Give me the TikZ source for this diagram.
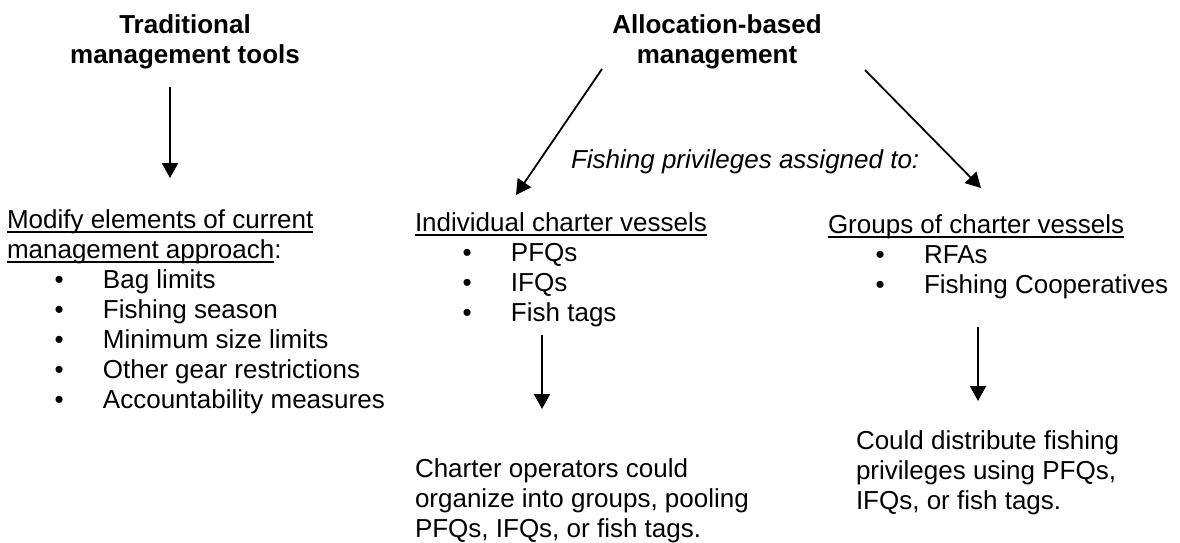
\documentclass[tikz,border=0pt]{standalone}
\usepackage{fontspec}
\setmainfont{Liberation Sans}
\usetikzlibrary{arrows.meta}
\newcommand{\myul}[1]{\setbox0\hbox{#1}\rlap{\rule[-4.5pt]{\wd0}{1.5pt}}\box0}
\newcommand{\bul}{\makebox[96pt][l]{\hspace*{47.5pt}\textbullet}}
\begin{document}
\begin{tikzpicture}[x=1pt,y=-1pt,
  txt/.style={inner sep=0pt, outer sep=0pt, anchor=base west, font=\fontsize{26}{30}\selectfont},
  head/.style={inner sep=0pt, outer sep=0pt, anchor=base, font=\fontsize{26}{30}\selectfont\bfseries},
  arr/.style={line width=1.8pt, -{Triangle[length=15pt,width=16pt]}}]
\useasboundingbox (0,0) rectangle (1180,543);
% headings
\node[head] (trad) at (185,34) {\begin{tabular}[t]{@{}c@{}}Traditional\\management tools\end{tabular}};
\node[head] (alloc) at (717,34) {\begin{tabular}[t]{@{}c@{}}Allocation-based\\management\end{tabular}};
% italic label
\node[txt, font=\fontsize{26}{30}\selectfont\itshape] (assign) at (571,168) {Fishing privileges assigned to:};
% left block
\node[txt] (modify) at (7,228) {\begin{tabular}[t]{@{}l@{}}
\myul{Modify elements of current}\\
\myul{management approach}:\\
\bul Bag limits\\
\bul Fishing season\\
\bul Minimum size limits\\
\bul Other gear restrictions\\
\bul Accountability measures
\end{tabular}};
% middle block
\node[txt] (indiv) at (415,231) {\begin{tabular}[t]{@{}l@{}}
\myul{Individual charter vessels}\\
\bul PFQs\\
\bul IFQs\\
\bul Fish tags
\end{tabular}};
% right block
\node[txt] (groups) at (828,233) {\begin{tabular}[t]{@{}l@{}}
\myul{Groups of charter vessels}\\
\bul RFAs\\
\bul Fishing Cooperatives
\end{tabular}};
% bottom texts
\node[txt] (operators) at (415,477) {\begin{tabular}[t]{@{}l@{}}
Charter operators could\\
organize into groups, pooling\\
PFQs, IFQs, or fish tags.
\end{tabular}};
\node[txt] (distribute) at (856,449) {\begin{tabular}[t]{@{}l@{}}
Could distribute fishing\\
privileges using PFQs,\\
IFQs, or fish tags.
\end{tabular}};
% arrow end points
\coordinate (tradS) at (170,87);
\coordinate (modifyN) at (170,178);
\coordinate (allocL) at (602,69);
\coordinate (indivN) at (516,195);
\coordinate (allocR) at (865,70);
\coordinate (groupsN) at (981,188);
\coordinate (indivS) at (542,335);
\coordinate (operatorsN) at (542,409);
\coordinate (groupsS) at (978,327);
\coordinate (distributeN) at (978,401);
\draw[arr] (tradS) -- (modifyN);
\draw[arr] (allocL) -- (indivN);
\draw[arr] (allocR) -- (groupsN);
\draw[arr] (indivS) -- (operatorsN);
\draw[arr] (groupsS) -- (distributeN);
\end{tikzpicture}
\end{document}
